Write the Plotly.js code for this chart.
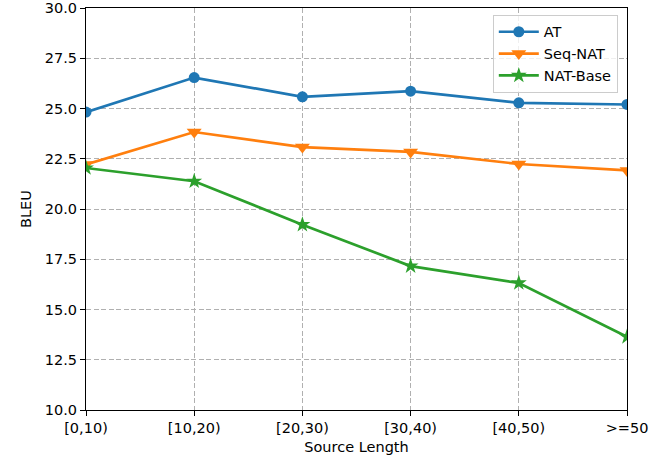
<!DOCTYPE html>
<html>
<head>
<meta charset="utf-8">
<script src="https://cdn.plot.ly/plotly-3.0.1.min.js"></script>
<style>html,body{margin:0;padding:0;background:#fff;}#chart{width:664px;height:459px;}</style>
</head>
<body>
<div id="chart"></div>
<script>
const categories = ["[0,10)", "[10,20)", "[20,30)", "[30,40)", "[40,50)", ">=50"];
const atValues = [24.82, 26.54, 25.58, 25.86, 25.28, 25.20];
const seqNatValues = [22.22, 23.83, 23.08, 22.84, 22.24, 21.92];
const natBaseValues = [22.04, 21.38, 19.22, 17.16, 16.32, 13.64];
const yTicks = [10.0, 12.5, 15.0, 17.5, 20.0, 22.5, 25.0, 27.5, 30.0];

const font = {family: "DejaVu Sans", size: 14.5, color: "#000"};
function series(name, y, color, symbol, size) {
  return {
    x: categories, y: y, name: name, type: "scatter", mode: "lines+markers",
    line: {color: color, width: 2.7},
    marker: {color: color, symbol: symbol, size: size, line: {width: 0}},
    cliponaxis: true
  };
}
const data = [
  series("AT", atValues, "#1f77b4", "circle", 11),
  series("Seq-NAT", seqNatValues, "#ff7f0e", "triangle-down", 13),
  series("NAT-Base", natBaseValues, "#2ca02c", "star", 12)
];
const layout = {
  width: 664, height: 459,
  margin: {l: 86, r: 37, t: 8, b: 49},
  paper_bgcolor: "#fff", plot_bgcolor: "#fff",
  font: font,
  showlegend: true,
  legend: {
    x: 0.983, y: 0.983, xanchor: "right", yanchor: "top",
    bgcolor: "rgba(255,255,255,0.8)", bordercolor: "#cccccc", borderwidth: 1,
    font: {family: "DejaVu Sans", size: 14.5, color: "#000"},
    itemwidth: 40, tracegroupgap: 0
  },
  xaxis: {
    type: "category", range: [0, 5],
    title: {text: "Source Length", font: font, standoff: 6},
    showline: true, mirror: true, linecolor: "#000", linewidth: 1,
    ticks: "outside", ticklen: 5, tickcolor: "#000",
    showgrid: true, gridcolor: "#b0b0b0", griddash: "5px,2.5px", gridwidth: 1,
    zeroline: false, tickfont: font
  },
  yaxis: {
    range: [10, 30], tickvals: yTicks, ticktext: yTicks.map(v => v.toFixed(1)),
    title: {text: "BLEU", font: font, standoff: 9},
    showline: true, mirror: true, linecolor: "#000", linewidth: 1,
    ticks: "outside", ticklen: 5, tickcolor: "#000",
    showgrid: true, gridcolor: "#b0b0b0", griddash: "5px,2.5px", gridwidth: 1,
    zeroline: false, tickfont: font
  }
};
Plotly.newPlot("chart", data, layout, {displayModeBar: false, staticPlot: true});
</script>
</body>
</html>
